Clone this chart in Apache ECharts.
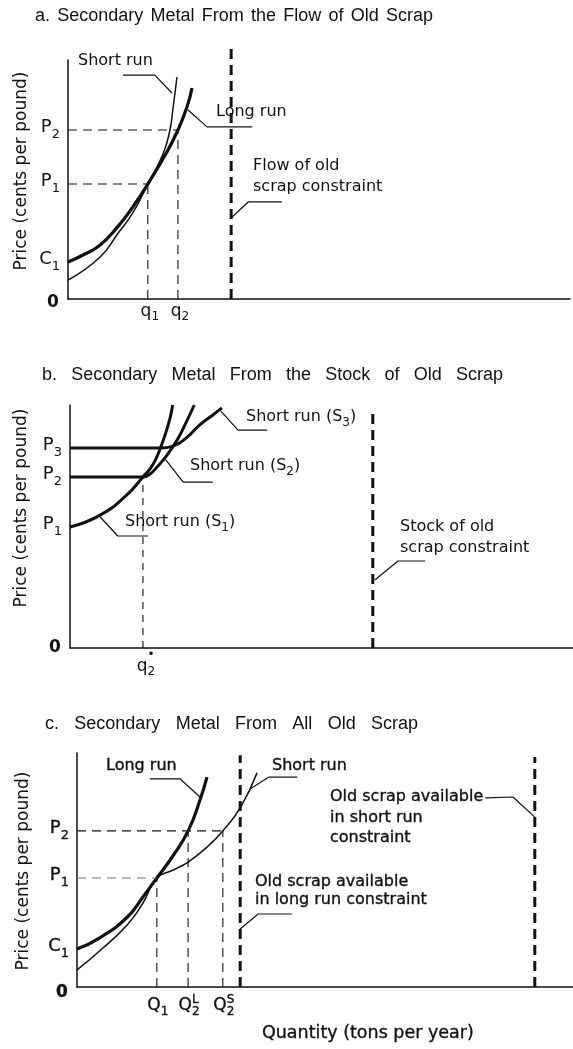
<!DOCTYPE html>
<html><head><meta charset="utf-8">
<script src="https://cdn.jsdelivr.net/npm/echarts@6/dist/echarts.min.js"></script>
<style>html,body{margin:0;padding:0;background:#fff}#c{width:573px;height:1049px}</style>
</head><body><div id="c"></div>
<script>
// ===== Panel a: flow of old scrap (quantity 0-100, price 0-100) =====
const aLongRun  = [[0,15.5],[3,18.4],[6.4,22.6],[10,30.5],[12.9,38.5],[15.9,48.1],[19.7,61.5],[21.9,70.7],[23.7,80.3],[24.7,88.3]];
const aShortRun = [[0,7.9],[6.4,17.6],[10,27.6],[12.9,36.0],[15.9,48.1],[18.9,60.5],[20.3,70.7],[20.9,79.5],[21.7,92.9]];
const aPriceTicks = [15.5, 48.1, 70.7];
const aPriceNames = [['C','1'],['P','1'],['P','2']];
const aQtyTicks = [15.9, 21.9];
const aQtyNames = [['q','1'],['q','2']];
const aConstraint = [[32.5,0],[32.5,105]];
const aLeaderShort = [[10.96,93.7],[17.3,93.7],[20.7,86.2]];
const aLeaderLong = [[36.7,72.0],[27.7,72.0],[23.9,79.1]];
const aLeaderConstraint = [[42.6,40.6],[35.9,40.6],[32.7,34.3]];

// ===== Panel b: stock of old scrap =====
const bS1 = [[0,49.8],[6.0,54.7],[11.3,63.0],[14.5,70.4],[15.9,73.7],[16.9,77.0],[17.9,81.9],[18.9,87.7],[19.9,94.7],[20.4,100]];
const bS2 = [[0,70.4],[14.5,70.4],[15.9,71.6],[17.3,74.5],[19.3,79.4],[21.3,85.6],[22.9,92.0],[24.7,100]];
const bS3 = [[0,82.3],[17.9,82.3],[20.5,83.1],[23.3,86.8],[25.8,91.8],[28.4,95.9],[30.2,98.8]];
const bPriceTicks = [49.8, 70.4, 82.3];
const bPriceNames = [['P','1'],['P','2'],['P','3']];
const bQtyTick = 14.5;
const bConstraint = [[60.2,0],[60.2,97.9]];
const bLeaderS3 = [[39.2,89.7],[33.4,89.7],[30.0,97.5]];
const bLeaderS2 = [[28.4,68.3],[22.5,68.3],[19.0,77.5]];
const bLeaderS1 = [[15.5,46.1],[9.5,46.1],[6.0,53.9]];
const bLeaderConstraint = [[70.6,35.8],[65.2,35.8],[60.6,28.0]];

// ===== Panel c: all old scrap =====
const cLongRun  = [[0,16.2],[4.6,21.0],[10.1,29.8],[13.3,38.5],[16.1,46.6],[19.4,56.2],[22.4,66.7],[24.8,79.9],[26.2,89.7]];
const cShortRun = [[0,7.3],[4.6,15.5],[10.1,26.5],[13.3,35.9],[16.1,46.6],[19.4,50.0],[22.4,53.4],[26.2,59.8],[29.4,66.7],[32.9,76.5],[36.3,91.5]];
const cPriceTicks = [16.2, 46.6, 66.7];
const cPriceNames = [['C','1'],['P','1'],['P','2']];
const cQtyTicks = [16.1, 22.4, 29.4];
const cQtyNames = [['Q','1',null],['Q','2','L'],['Q','2','S']];
const cConstraintLong = [[32.9,0],[32.9,99]];
const cConstraintShort = [[92.3,0],[92.3,98.3]];
const cLeaderLong = [[14.7,88.9],[20.8,88.9],[24.8,81.2]];
const cLeaderShort = [[44.4,89.7],[38.7,89.7],[34.9,84.6]];
const cLeaderShortC = [[82.3,80.8],[87.9,81.2],[92.3,72.6]];
const cLeaderLongC = [[43.3,31.2],[36.5,31.2],[32.9,24.8]];

const titleA = ['a.','Secondary','Metal','From','the','Flow','of','Old','Scrap'];
const titleB = ['b.','Secondary','Metal','From','the','Stock','of','Old','Scrap'];
const titleC = ['c.','Secondary','Metal','From','All','Old','Scrap'];

// ===== rendering =====
const BLACK = '#111';
const chart = echarts.init(document.getElementById('c'), null, {renderer:'canvas'});
const grids = [
  {left:68, top:60, width:502, height:239},
  {left:70, top:405, width:503, height:243},
  {left:77, top:753, width:496, height:234}
];
function axis(i){
  return {type:'value', gridIndex:i, min:0, max:100,
    axisLine:{show:true, onZero:false, lineStyle:{color:BLACK, width:1.5}},
    axisTick:{show:false}, axisLabel:{show:false}, splitLine:{show:false}};
}
function ln(g, data, width, dash, smooth, color){
  return {type:'line', xAxisIndex:g, yAxisIndex:g, data:data, symbol:'none', clip:false, silent:true,
    smooth: smooth ? 0.5 : false,
    lineStyle:{color: color || BLACK, width: width, type: dash || 'solid', cap:'butt', join:'round'}};
}
const THIN_DASH = [9,6], THICK_DASH = [10,6];
const series = [];
// a
series.push(ln(0, aLongRun, 3.2, null, true));
series.push(ln(0, aShortRun, 1.5, null, true));
aQtyTicks.forEach((q,i)=>{
  const p = aPriceTicks[i+1];
  series.push(ln(0, [[0,p],[q,p]], 1.1, THIN_DASH));
  series.push(ln(0, [[q,0],[q,p]], 1.1, THIN_DASH));
});
series.push(ln(0, aConstraint, 3, THICK_DASH));
[aLeaderShort, aLeaderLong, aLeaderConstraint].forEach(d=>series.push(ln(0,d,1.2)));
// b
[bS1,bS2,bS3].forEach(d=>series.push(ln(1, d, 3, null, true)));
series.push(ln(1, [[bQtyTick,0],[bQtyTick,bPriceTicks[1]]], 1.1, [7,6]));
series.push(ln(1, bConstraint, 3, THICK_DASH));
[bLeaderS3,bLeaderS2,bLeaderS1,bLeaderConstraint].forEach(d=>series.push(ln(1,d,1.2)));
// c
series.push(ln(2, cLongRun, 3.2, null, true));
series.push(ln(2, cShortRun, 1.5, null, true));
series.push(ln(2, [[0,cPriceTicks[1]],[cQtyTicks[0],cPriceTicks[1]]], 1.1, THIN_DASH, false, '#777'));
series.push(ln(2, [[0,cPriceTicks[2]],[cQtyTicks[2],cPriceTicks[2]]], 1.1, THIN_DASH));
series.push(ln(2, [[cQtyTicks[0],0],[cQtyTicks[0],cPriceTicks[1]]], 1.1, THIN_DASH));
series.push(ln(2, [[cQtyTicks[1],0],[cQtyTicks[1],cPriceTicks[2]]], 1.1, THIN_DASH));
series.push(ln(2, [[cQtyTicks[2],0],[cQtyTicks[2],cPriceTicks[2]]], 1.1, THIN_DASH));
series.push(ln(2, cConstraintLong, 3, THICK_DASH));
series.push(ln(2, cConstraintShort, 3, THICK_DASH));
[cLeaderLong,cLeaderShort,cLeaderShortC,cLeaderLongC].forEach(d=>series.push(ln(2,d,1.2)));

chart.setOption({
  animation:false,
  backgroundColor:'#fff',
  grid: grids,
  xAxis: [0,1,2].map(axis),
  yAxis: [0,1,2].map(axis),
  series: series
});

// ----- text helpers -----
const FAM = 'DejaVu Sans';
const mctx = document.createElement('canvas').getContext('2d');
function measure(t, fw, fs, fam){ mctx.font = fw+' '+fs+'px "'+fam+'"'; return mctx.measureText(t).width; }
function T(x, y, text, o){
  o = o || {};
  const st = {text:text, fontSize:o.size||16, fontFamily:o.family||FAM, fontWeight:o.weight||'normal',
    fill:BLACK, align:o.align||'left', verticalAlign:'middle', textAlign:o.align||'left', textVerticalAlign:'middle'};
  if (o.stroke){ st.stroke = BLACK; st.lineWidth = o.stroke; }
  const el = {type:'text', x:x, y:y, silent:true, style:st};
  if (o.rotation) el.rotation = o.rotation;
  return el;
}
function composite(x, y, parts, o){
  const fs = o.size, fam = o.family||FAM, fw = o.weight||'normal', sfs = o.subSize || Math.round(fs*0.72);
  const items = []; let w = 0;
  parts.forEach(p=>{
    if (typeof p === 'string'){ items.push({t:p, dx:w, dy:0, fs:fs}); w += measure(p,fw,fs,fam); }
    else {
      let pw = 0;
      if (p.sub != null){ items.push({t:p.sub, dx:w, dy:(p.subDy!=null?p.subDy:o.subDy), fs:sfs}); pw = Math.max(pw, measure(p.sub,fw,sfs,fam)); }
      if (p.sup != null){ items.push({t:p.sup, dx:w, dy:(p.supDy!=null?p.supDy:o.supDy), fs:sfs}); pw = Math.max(pw, measure(p.sup,fw,sfs,fam)); }
      w += pw;
    }
  });
  const x0 = o.align==='right' ? x-w : (o.align==='center' ? x-w/2 : x);
  return items.map(it=>T(x0+it.dx, y+it.dy, it.t, {size:it.fs, family:fam, weight:fw, stroke:o.stroke}));
}
function px(g, x, y){ return chart.convertToPixel({xAxisIndex:g, yAxisIndex:g}, [x,y]); }
function words(list, x0, x1, y){
  const fs = 18, fam = 'Liberation Sans';
  const ws = list.map(w=>measure(w,'normal',fs,fam));
  const gap = (x1 - x0 - ws.reduce((a,b)=>a+b,0)) / (list.length-1);
  let x = x0; const out = [];
  list.forEach((w,i)=>{ out.push(T(x, y, w, {size:fs, family:fam})); x += ws[i] + gap; });
  return out;
}

const G = [];
G.push(...words(titleA, 35, 433, 16));
G.push(...words(titleB, 42, 503, 375));
G.push(...words(titleC, 45, 418, 724));
G.push(T(22, 171, 'Price (cents per pound)', {size:17, align:'center', rotation:Math.PI/2}));
G.push(T(22, 508, 'Price (cents per pound)', {size:17, align:'center', rotation:Math.PI/2}));
G.push(T(24, 871, 'Price (cents per pound)', {size:17, align:'center', rotation:Math.PI/2}));
G.push(T(262, 1033, 'Quantity (tons per year)', {size:17.5, stroke:0.35}));

function yTicks(g, ticks, names, zeroDy, o){
  ticks.forEach((v,i)=>{
    const p = px(g, 0, v);
    G.push(...composite(p[0]-8, p[1]-3, [names[i][0], {sub:names[i][1]}], Object.assign({size:18, align:'right', subDy:8}, o)));
  });
  const z = px(g, 0, 0);
  G.push(T(z[0]-15, z[1]+zeroDy, '0', Object.assign({size:17, align:'center', weight:'bold'}, o)));
}
yTicks(0, aPriceTicks, aPriceNames, 4, {});
yTicks(1, bPriceTicks, bPriceNames, 0, {});
yTicks(2, cPriceTicks, cPriceNames, 6, {stroke:0.35});

aQtyTicks.forEach((v,i)=>{
  const p = px(0, v, 0);
  G.push(...composite(p[0]+2, p[1]+13, [aQtyNames[i][0], {sub:aQtyNames[i][1]}], {size:17, align:'center', subDy:5}));
});
(function(){
  const p = px(1, bQtyTick, 0);
  G.push(...composite(p[0]+3, p[1]+19, ['q', {sub:'2', sup:'\u2022', supDy:-12}], {size:17, align:'center', subDy:5}));
})();
cQtyTicks.forEach((v,i)=>{
  const p = px(2, v, 0);
  const n = cQtyNames[i];
  G.push(...composite(p[0]+1, p[1]+19, [n[0], {sub:n[1], sup:n[2]}], {size:17, align:'center', subDy:6, supDy:-6, stroke:0.35}));
});

const A = {size:16};
G.push(T(78, 61, 'Short run', A));
G.push(T(216, 112, 'Long run', A));
G.push(T(253, 166, 'Flow of old', A));
G.push(T(253, 187, 'scrap constraint', A));
G.push(...composite(246, 417, ['Short run (S', {sub:'3'}, ')'], {size:16, subDy:6}));
G.push(...composite(190, 466, ['Short run (S', {sub:'2'}, ')'], {size:16, subDy:6}));
G.push(...composite(125, 522, ['Short run (S', {sub:'1'}, ')'], {size:16, subDy:6}));
G.push(T(400, 527, 'Stock of old', A));
G.push(T(400, 548, 'scrap constraint', A));
const C = {size:16, stroke:0.35};
G.push(T(106, 766, 'Long run', C));
G.push(T(272, 766, 'Short run', C));
G.push(T(330, 797, 'Old scrap available', C));
G.push(T(330, 818, 'in short run', C));
G.push(T(330, 838, 'constraint', C));
G.push(T(255, 882, 'Old scrap available', C));
G.push(T(255, 900, 'in long run constraint', C));

chart.setOption({graphic: G});
</script></body></html>
